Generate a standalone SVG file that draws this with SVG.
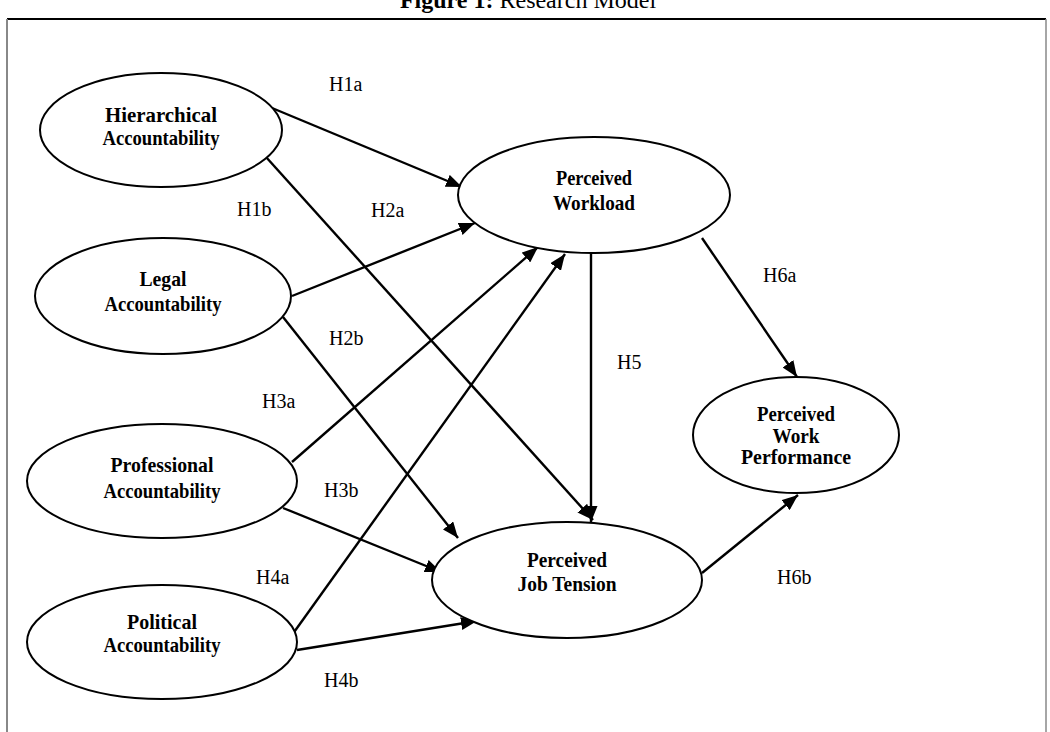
<svg xmlns="http://www.w3.org/2000/svg" width="1050" height="732" viewBox="0 0 1050 732">
<style>
.node ellipse{fill:#fff;stroke:#000;stroke-width:2}
.node text{font-family:"Liberation Serif","Times New Roman",serif;font-weight:bold;font-size:22px;text-anchor:middle;fill:#000}
.lbl{font-family:"Liberation Serif","Times New Roman",serif;font-size:20px;fill:#000}
.edge{stroke:#000;stroke-width:2.4;fill:none;marker-end:url(#ah)}
</style>
<defs>
<marker id="ah" markerUnits="userSpaceOnUse" markerWidth="17" markerHeight="13" refX="16" refY="6.5" orient="auto">
<path d="M0,0 L16,6.5 L0,13 z" fill="#000"/>
</marker>
</defs>
<rect width="1050" height="732" fill="#fff"/>
<text x="528" y="8" font-family="Liberation Serif, serif" font-size="24" text-anchor="middle"><tspan font-weight="bold">Figure 1:</tspan> Research Model</text>
<line x1="7" y1="19" x2="1046" y2="19" stroke="#000" stroke-width="2"/>
<line x1="7" y1="19" x2="7" y2="732" stroke="#888" stroke-width="2"/>
<line x1="1046" y1="19" x2="1046" y2="732" stroke="#888" stroke-width="1.5"/>
<g id="connectors">
<line class="edge" x1="272" y1="108" x2="462" y2="187"/>
<line class="edge" x1="266" y1="157" x2="593" y2="520"/>
<line class="edge" x1="292" y1="296" x2="475" y2="223"/>
<line class="edge" x1="283" y1="317" x2="458" y2="538"/>
<line class="edge" x1="292" y1="462" x2="538" y2="247"/>
<line class="edge" x1="283" y1="508" x2="441" y2="572"/>
<line class="edge" x1="292" y1="635" x2="565" y2="254"/>
<line class="edge" x1="297" y1="650" x2="477" y2="621"/>
<line class="edge" x1="591" y1="253" x2="591" y2="522"/>
<line class="edge" x1="702" y1="238" x2="797" y2="377"/>
<line class="edge" x1="702" y1="573" x2="798" y2="495"/>
</g>
<g id="labels">
<text class="lbl" x="329" y="91">H1a</text>
<text class="lbl" x="237" y="216">H1b</text>
<text class="lbl" x="371" y="217">H2a</text>
<text class="lbl" x="329" y="345">H2b</text>
<text class="lbl" x="262" y="408">H3a</text>
<text class="lbl" x="324" y="497">H3b</text>
<text class="lbl" x="256" y="584">H4a</text>
<text class="lbl" x="324" y="687">H4b</text>
<text class="lbl" x="617" y="369">H5</text>
<text class="lbl" x="763" y="282">H6a</text>
<text class="lbl" x="777" y="584">H6b</text>
</g>
<g id="n-hier" class="node">
<ellipse cx="161" cy="130" rx="121" ry="57"/>
<text x="161" y="122" textLength="112" lengthAdjust="spacingAndGlyphs">Hierarchical</text>
<text x="161" y="145" textLength="117" lengthAdjust="spacingAndGlyphs">Accountability</text>
</g>
<g id="n-legal" class="node">
<ellipse cx="163" cy="296" rx="128" ry="58"/>
<text x="163" y="286" textLength="47" lengthAdjust="spacingAndGlyphs">Legal</text>
<text x="163" y="311" textLength="117" lengthAdjust="spacingAndGlyphs">Accountability</text>
</g>
<g id="n-prof" class="node">
<ellipse cx="162" cy="481" rx="135" ry="57"/>
<text x="162" y="472" textLength="103" lengthAdjust="spacingAndGlyphs">Professional</text>
<text x="162" y="498" textLength="117" lengthAdjust="spacingAndGlyphs">Accountability</text>
</g>
<g id="n-pol" class="node">
<ellipse cx="162" cy="642" rx="135" ry="57"/>
<text x="162" y="629" textLength="70" lengthAdjust="spacingAndGlyphs">Political</text>
<text x="162" y="652" textLength="117" lengthAdjust="spacingAndGlyphs">Accountability</text>
</g>
<g id="n-workload" class="node">
<ellipse cx="594" cy="195" rx="136" ry="58"/>
<text x="594" y="185" textLength="76" lengthAdjust="spacingAndGlyphs">Perceived</text>
<text x="594" y="210" textLength="82" lengthAdjust="spacingAndGlyphs">Workload</text>
</g>
<g id="n-tension" class="node">
<ellipse cx="567" cy="580" rx="135" ry="58"/>
<text x="567" y="567" textLength="80" lengthAdjust="spacingAndGlyphs">Perceived</text>
<text x="567" y="591" textLength="99" lengthAdjust="spacingAndGlyphs">Job Tension</text>
</g>
<g id="n-perf" class="node">
<ellipse cx="796" cy="435" rx="103" ry="58"/>
<text x="796" y="421" textLength="78" lengthAdjust="spacingAndGlyphs">Perceived</text>
<text x="796" y="443" textLength="47" lengthAdjust="spacingAndGlyphs">Work</text>
<text x="796" y="464" textLength="110" lengthAdjust="spacingAndGlyphs">Performance</text>
</g>
</svg>
